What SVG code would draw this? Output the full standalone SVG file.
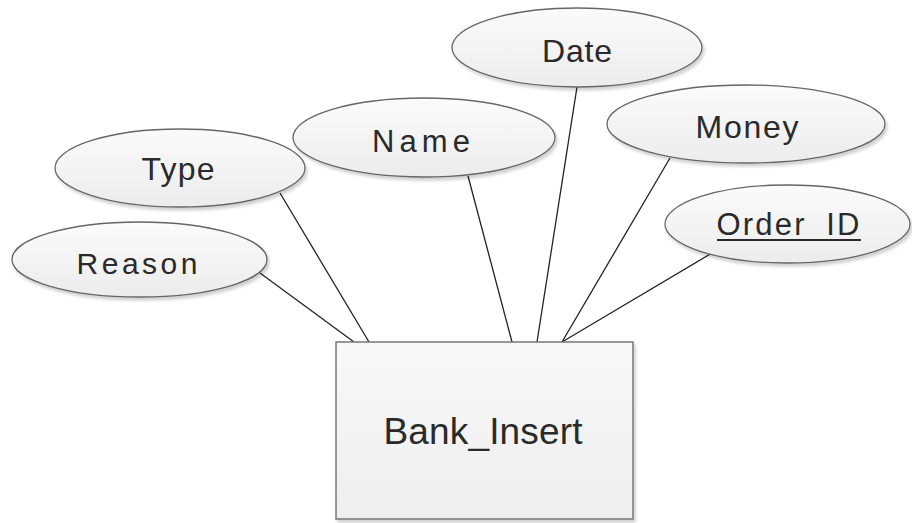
<svg xmlns="http://www.w3.org/2000/svg" width="912" height="523" viewBox="0 0 912 523">
<style>
.attr{fill:url(#g);stroke:#666;stroke-width:1.3;filter:url(#sh)}
.ent{fill:url(#g2);stroke:#777;stroke-width:1.5;filter:url(#sh)}
.lbl{font-family:"Liberation Sans",Arial,sans-serif;fill:#2a2a2a;text-anchor:middle}
.conn line{stroke:#222;stroke-width:1.3}
</style>
<defs>
<linearGradient id="g" x1="0" y1="0" x2="0" y2="1"><stop offset="0" stop-color="#fbfbfb"/><stop offset="1" stop-color="#ececec"/></linearGradient>
<linearGradient id="g2" x1="0" y1="0" x2="0" y2="1"><stop offset="0" stop-color="#f8f8f8"/><stop offset="1" stop-color="#eeeeee"/></linearGradient>
<filter id="sh" x="-10%" y="-10%" width="120%" height="130%"><feDropShadow dx="2" dy="3" stdDeviation="1.5" flood-color="#000" flood-opacity="0.18"/></filter>
</defs>
<rect width="912" height="523" fill="#fff"/>
<g class="conn" id="connectors">
<line x1="260" y1="273" x2="354" y2="342"/>
<line x1="280" y1="193" x2="369" y2="342"/>
<line x1="468" y1="176" x2="512" y2="342"/>
<line x1="577" y1="87" x2="537" y2="342"/>
<line x1="670" y1="158" x2="562" y2="342"/>
<line x1="712" y1="253" x2="562" y2="342"/>
</g>
<g id="reason"><ellipse class="attr" cx="139.5" cy="259.5" rx="127.5" ry="37.5"/><text class="lbl" x="137" y="274" font-size="30" textLength="121" lengthAdjust="spacing">Reason</text></g>
<g id="type"><ellipse class="attr" cx="180" cy="168" rx="125" ry="39"/><text class="lbl" x="178" y="180" font-size="32" textLength="73" lengthAdjust="spacing">Type</text></g>
<g id="name"><ellipse class="attr" cx="424" cy="137.5" rx="131" ry="39.5"/><text class="lbl" x="421" y="152" font-size="31" textLength="98" lengthAdjust="spacing">Name</text></g>
<g id="date"><ellipse class="attr" cx="577" cy="47.5" rx="125" ry="39.5"/><text class="lbl" x="577" y="62" font-size="32" textLength="70" lengthAdjust="spacing">Date</text></g>
<g id="money"><ellipse class="attr" cx="746" cy="124" rx="139" ry="39"/><text class="lbl" x="747" y="138" font-size="32" textLength="103" lengthAdjust="spacing">Money</text></g>
<g id="order_id"><ellipse class="attr" cx="787.5" cy="224" rx="122.5" ry="39"/><text class="lbl" x="788" y="235" font-size="31" textLength="143" lengthAdjust="spacing">Order_ID</text><line x1="717" y1="240" x2="861" y2="240" stroke="#2a2a2a" stroke-width="2.2"/></g>
<g id="bank_insert"><rect class="ent" x="336" y="342" width="297" height="177"/><text class="lbl" x="483" y="444" font-size="37" textLength="199" lengthAdjust="spacing">Bank_Insert</text></g>
</svg>
